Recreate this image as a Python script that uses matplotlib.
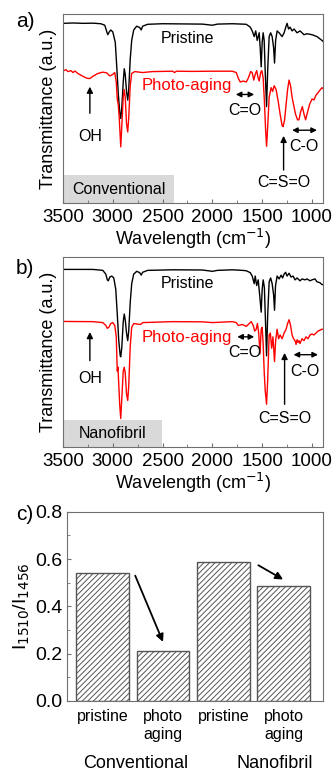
import matplotlib.pyplot as plt
import numpy as np
from matplotlib.ticker import MultipleLocator

plt.rcParams['font.family'] = ['Liberation Sans', 'DejaVu Sans']
plt.rcParams['hatch.linewidth'] = 0.7

# ---------------- spectra (wavenumber, transmittance a.u.)
a_black_w = [3500, 3400, 3300, 3200, 3120, 3080, 3060, 3050, 3035, 3020, 3000, 2975, 2960, 2945, 2930,
             2920, 2910, 2895, 2885, 2875, 2862, 2850, 2840, 2825, 2810, 2790, 2760, 2730, 2715, 2700,
             2650, 2500, 2300, 2100, 2000, 1950, 1800, 1700, 1660, 1620, 1600, 1580, 1565, 1550, 1530,
             1520, 1510, 1500, 1490, 1480, 1470, 1456, 1445, 1430, 1415, 1400, 1385, 1376, 1365, 1350,
             1330, 1300, 1280, 1260, 1250, 1235, 1220, 1200, 1180, 1150, 1120, 1080, 1050, 1000, 950,
             900, 890]
a_black_t = [0.950, 0.952, 0.950, 0.951, 0.948, 0.940, 0.905, 0.890, 0.905, 0.915, 0.905, 0.850, 0.720,
             0.580, 0.480, 0.447, 0.500, 0.640, 0.710, 0.680, 0.590, 0.544, 0.600, 0.760, 0.860, 0.915,
             0.935, 0.928, 0.915, 0.935, 0.945, 0.948, 0.947, 0.946, 0.940, 0.946, 0.948, 0.946, 0.945,
             0.930, 0.910, 0.880, 0.910, 0.860, 0.900, 0.820, 0.720, 0.850, 0.900, 0.860, 0.700, 0.510,
             0.700, 0.880, 0.900, 0.880, 0.820, 0.740, 0.860, 0.910, 0.900, 0.880, 0.900, 0.935, 0.950,
             0.920, 0.930, 0.910, 0.920, 0.900, 0.910, 0.890, 0.895, 0.890, 0.880, 0.860, 0.855]

a_red_w = [3500, 3470, 3450, 3420, 3400, 3380, 3350, 3300, 3260, 3230, 3200, 3150, 3100, 3060, 3030,
           3000, 2980, 2965, 2955, 2945, 2935, 2920, 2910, 2895, 2885, 2875, 2862, 2850, 2840, 2825,
           2810, 2780, 2700, 2600, 2400, 2380, 2360, 2200, 2000, 1800, 1760, 1740, 1720, 1690, 1660,
           1640, 1615, 1600, 1585, 1570, 1555, 1540, 1530, 1515, 1503, 1490, 1478, 1465, 1456, 1445,
           1430, 1410, 1395, 1380, 1360, 1340, 1320, 1300, 1290, 1275, 1260, 1245, 1230, 1215, 1200,
           1185, 1165, 1145, 1131, 1115, 1097, 1080, 1064, 1045, 1025, 1000, 980, 960, 930, 900, 890]
a_red_t = [0.698, 0.705, 0.695, 0.700, 0.690, 0.698, 0.685, 0.670, 0.660, 0.658, 0.670, 0.685, 0.692,
           0.688, 0.672, 0.680, 0.690, 0.640, 0.550, 0.520, 0.450, 0.297, 0.400, 0.560, 0.600, 0.560,
           0.420, 0.376, 0.450, 0.620, 0.685, 0.695, 0.690, 0.695, 0.697, 0.690, 0.697, 0.696, 0.697,
           0.697, 0.690, 0.660, 0.640, 0.645, 0.640, 0.660, 0.695, 0.690, 0.650, 0.680, 0.700, 0.660,
           0.645, 0.690, 0.700, 0.660, 0.540, 0.380, 0.300, 0.400, 0.560, 0.610, 0.590, 0.620, 0.600,
           0.540, 0.470, 0.410, 0.404, 0.440, 0.520, 0.600, 0.650, 0.620, 0.560, 0.520, 0.470, 0.440,
           0.440, 0.480, 0.510, 0.470, 0.440, 0.480, 0.520, 0.550, 0.545, 0.570, 0.590, 0.610, 0.605]

b_black_w = [3500, 3200, 3100, 3070, 3055, 3045, 3030, 3010, 2990, 2970, 2955, 2940, 2925, 2920, 2910,
             2895, 2885, 2875, 2862, 2850, 2840, 2825, 2810, 2790, 2760, 2730, 2715, 2700, 2650, 2400,
             2100, 2000, 1950, 1800, 1700, 1660, 1620, 1600, 1580, 1570, 1555, 1540, 1525, 1510, 1500,
             1490, 1478, 1468, 1456, 1445, 1430, 1415, 1400, 1385, 1376, 1366, 1350, 1330, 1310, 1295,
             1280, 1265, 1250, 1230, 1210, 1190, 1170, 1150, 1120, 1100, 1070, 1050, 1020, 1000, 970,
             950, 920, 900, 890]
b_black_t = [0.935, 0.935, 0.930, 0.910, 0.880, 0.875, 0.895, 0.900, 0.890, 0.830, 0.700, 0.560, 0.480,
             0.475, 0.520, 0.660, 0.700, 0.670, 0.600, 0.560, 0.610, 0.760, 0.860, 0.910, 0.925, 0.918,
             0.905, 0.920, 0.930, 0.933, 0.932, 0.925, 0.930, 0.933, 0.930, 0.928, 0.918, 0.900, 0.860,
             0.900, 0.850, 0.880, 0.800, 0.710, 0.830, 0.880, 0.840, 0.680, 0.480, 0.690, 0.870, 0.890,
             0.860, 0.800, 0.720, 0.850, 0.900, 0.885, 0.905, 0.890, 0.910, 0.920, 0.900, 0.915, 0.895,
             0.900, 0.880, 0.890, 0.875, 0.885, 0.880, 0.885, 0.875, 0.880, 0.885, 0.870, 0.865, 0.855,
             0.855]

b_red_w = [3500, 3200, 3100, 3070, 3055, 3040, 3020, 3000, 2980, 2965, 2955, 2948, 2940, 2930, 2920,
           2910, 2895, 2885, 2875, 2862, 2850, 2840, 2825, 2810, 2790, 2720, 2700, 2400, 2100, 2000,
           1800, 1760, 1740, 1700, 1660, 1640, 1610, 1590, 1575, 1560, 1548, 1535, 1522, 1510, 1500,
           1490, 1480, 1470, 1456, 1445, 1430, 1418, 1405, 1392, 1376, 1365, 1350, 1335, 1320, 1300,
           1280, 1260, 1245, 1230, 1215, 1200, 1185, 1170, 1160, 1150, 1140, 1130, 1120, 1100, 1080,
           1060, 1040, 1020, 1000, 980, 960, 940, 920, 900, 890]
b_red_t = [0.661, 0.660, 0.655, 0.640, 0.625, 0.630, 0.650, 0.655, 0.640, 0.580, 0.400, 0.420, 0.330,
           0.220, 0.150, 0.250, 0.400, 0.420, 0.390, 0.280, 0.245, 0.320, 0.530, 0.630, 0.650, 0.645,
           0.655, 0.660, 0.659, 0.655, 0.660, 0.655, 0.640, 0.645, 0.635, 0.645, 0.660, 0.640, 0.610,
           0.620, 0.650, 0.600, 0.490, 0.620, 0.630, 0.540, 0.400, 0.300, 0.225, 0.350, 0.590, 0.600,
           0.520, 0.580, 0.450, 0.560, 0.620, 0.570, 0.590, 0.570, 0.600, 0.620, 0.650, 0.670, 0.640,
           0.590, 0.570, 0.560, 0.540, 0.565, 0.550, 0.560, 0.545, 0.570, 0.560, 0.580, 0.570, 0.590,
           0.595, 0.590, 0.600, 0.610, 0.615, 0.620, 0.620]

# ---------------- bar data
bar_labels = ['pristine', 'photo\naging', 'pristine', 'photo\naging']
bar_values = [0.54, 0.213, 0.588, 0.485]
groups = ['Conventional', 'Nanofibril']

fig = plt.figure(figsize=(3.35, 7.72), dpi=100)

FRAME = '#707070'


def spectrum_panel(ax, bw, bt, rw, rt, sample, ann):
    ax.plot(bw, bt, color='black', lw=1.0)
    ax.plot(rw, rt, color='red', lw=1.0)
    ax.set_xlim(3500, 890)
    ax.set_ylim(0, 1)
    ax.set_yticks([])
    ax.xaxis.set_major_locator(MultipleLocator(500))
    ax.xaxis.set_minor_locator(MultipleLocator(250))
    ax.tick_params(axis='x', direction='in', length=3, labelsize=13.5, pad=4, color=FRAME)
    ax.tick_params(axis='x', which='minor', direction='in', length=2, color=FRAME)
    for s in ax.spines.values():
        s.set_color(FRAME)
    ax.set_xlabel('Wavelength (cm$^{-1}$)', fontsize=13, labelpad=1)
    ax.set_ylabel('Transmittance (a.u.)', fontsize=13, labelpad=4)
    # sample name box
    ax.fill_between([3500, ann['box_x']], 0, ann['box_y'], color='#d9d9d9', lw=0, zorder=0)
    ax.text((3500 + ann['box_x']) / 2, ann['box_y'] / 2, sample, ha='center', va='center', fontsize=11.5)
    ax.text(2250, ann['pr_y'], 'Pristine', ha='center', va='center', fontsize=11.5)
    ax.text(2255, ann['ph_y'], 'Photo-aging', ha='center', va='center', fontsize=12, color='red')
    # OH
    ax.annotate('', xy=(3230, ann['oh'][1]), xytext=(3230, ann['oh'][0]),
                arrowprops=dict(arrowstyle='-|>', color='black', lw=1.0, mutation_scale=9))
    ax.text(3230, ann['oh'][2], 'OH', ha='center', va='center', fontsize=11.5)
    # C=O
    ax.annotate('', xy=(ann['co'][0], ann['co'][2]), xytext=(ann['co'][1], ann['co'][2]),
                arrowprops=dict(arrowstyle='<|-|>', color='black', lw=1.0, mutation_scale=8, shrinkA=0, shrinkB=0))
    ax.text(1670, ann['co'][3], 'C=O', ha='center', va='center', fontsize=11.5)
    # C=S=O
    ax.annotate('', xy=(ann['cso'][0], ann['cso'][2]), xytext=(ann['cso'][0], ann['cso'][1]),
                arrowprops=dict(arrowstyle='-|>', color='black', lw=1.0, mutation_scale=9))
    ax.text(ann['cso'][0], ann['cso'][3], 'C=S=O', ha='center', va='center', fontsize=11.5)
    # C-O
    ax.annotate('', xy=(ann['c_o'][0], ann['c_o'][2]), xytext=(ann['c_o'][1], ann['c_o'][2]),
                arrowprops=dict(arrowstyle='<|-|>', color='black', lw=1.0, mutation_scale=8, shrinkA=0, shrinkB=0))
    ax.text(ann['c_o'][4], ann['c_o'][3], 'C-O', ha='center', va='center', fontsize=11.5)


ax1 = fig.add_axes([0.188, 0.737, 0.776, 0.245])
spectrum_panel(ax1, a_black_w, a_black_t, a_red_w, a_red_t, 'Conventional',
               dict(box_x=2385, box_y=0.147, pr_y=0.87, ph_y=0.62,
                    oh=(0.46, 0.63, 0.353), co=(1765, 1580, 0.574, 0.49),
                    cso=(1285, 0.16, 0.37, 0.11), c_o=(1200, 950, 0.385, 0.30, 1084)))

ax2 = fig.add_axes([0.188, 0.421, 0.776, 0.246])
spectrum_panel(ax2, b_black_w, b_black_t, b_red_w, b_red_t, 'Nanofibril',
               dict(box_x=2503, box_y=0.144, pr_y=0.86, ph_y=0.575,
                    oh=(0.44, 0.62, 0.36), co=(1750, 1580, 0.58, 0.495),
                    cso=(1275, 0.21, 0.51, 0.15), c_o=(1185, 940, 0.486, 0.40, 1067)))

# ---------------- bars
ax3 = fig.add_axes([0.2, 0.092, 0.764, 0.245])
pos = np.arange(len(bar_values))
ax3.bar(pos, bar_values, width=0.87, facecolor='white', edgecolor='#555555', hatch='//////', lw=1.0)
ax3.set_xlim(-0.59, 3.65)
ax3.set_ylim(0, 0.8)
ax3.yaxis.set_major_locator(MultipleLocator(0.2))
ax3.yaxis.set_minor_locator(MultipleLocator(0.1))
ax3.yaxis.set_major_formatter(lambda v, p: f'{v:.1f}')
ax3.tick_params(axis='y', direction='in', length=3, labelsize=14, color=FRAME)
ax3.tick_params(axis='y', which='minor', direction='in', length=2, color=FRAME)
ax3.set_xticks(pos, bar_labels)
ax3.tick_params(axis='x', length=0, labelsize=11.5, pad=6)
for s in ax3.spines.values():
    s.set_color(FRAME)
ax3.set_ylabel('I$_{1510}$/I$_{1456}$', fontsize=14, labelpad=2)
ax3.annotate('', xy=(1.0, 0.25), xytext=(0.54, 0.53),
             arrowprops=dict(arrowstyle='-|>', color='black', lw=1.3, mutation_scale=11, shrinkA=0, shrinkB=0))
ax3.annotate('', xy=(2.99, 0.514), xytext=(2.58, 0.574),
             arrowprops=dict(arrowstyle='-|>', color='black', lw=1.3, mutation_scale=11, shrinkA=0, shrinkB=0))
ax3.text(0.54, -0.33, groups[0], transform=ax3.get_xaxis_transform(), ha='center', va='center', fontsize=13)
ax3.text(2.85, -0.33, groups[1], transform=ax3.get_xaxis_transform(), ha='center', va='center', fontsize=13)

fig.text(0.075, 0.972, 'a)', fontsize=15, ha='center', va='center')
fig.text(0.075, 0.652, 'b)', fontsize=15, ha='center', va='center')
fig.text(0.075, 0.333, 'c)', fontsize=15, ha='center', va='center')

fig.savefig('out.png', dpi=100)
